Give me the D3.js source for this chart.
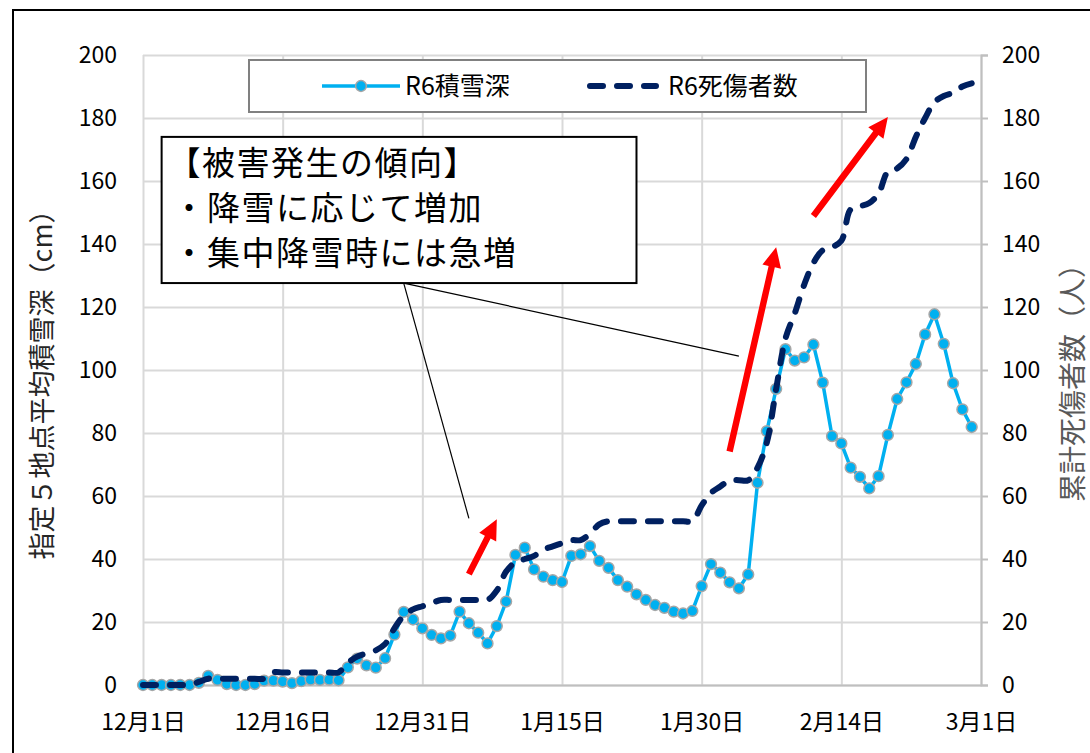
<!DOCTYPE html>
<html>
<head>
<meta charset="utf-8">
<script src="https://cdn.jsdelivr.net/npm/d3@7"></script>
<style>
  body { margin: 0; background: #fff; }
  text { font-family: "Noto Sans CJK JP", "Noto Sans", sans-serif; }
</style>
</head>
<body>
<div class="canvas"></div>
<script>
// --- data ---
// daily values from 12/1 (R6 winter: Dec 2024 - Feb 2025)
const startDate = new Date(2024, 11, 1);

// R6 snow depth, average of 5 points (cm)
const snowDepth = [
  0, 0, 0, 0, 0, 0, 0.7, 2.9, 1.6, 0.3,
  0, 0, 0.3, 1.4, 1.4, 1.1, 0.6, 1.2, 1.7, 1.6,
  1.7, 1.5, 5.6, 8.4, 6.2, 5.5, 8.5, 16, 23.2, 20.8,
  18, 15.9, 14.8, 15.7, 23.3, 19.6, 16.6, 13.2, 18.7, 26.5,
  41.3, 43.6, 36.7, 34.4, 33.3, 32.7, 41, 41.5, 44.1, 39.4,
  37.2, 33.3, 31.2, 28.8, 27, 25.4, 24.5, 23.3, 22.7, 23.5,
  31.4, 38.4, 35.7, 32.6, 30.7, 35.1, 64.2, 80.6, 94, 106.6,
  103, 104, 108.1, 96, 79, 76.7, 69, 66.1, 62.4, 66.3,
  79.4, 90.8, 96.1, 101.9, 111.3, 117.7, 108.3, 95.8, 87.5, 81.9
];

// R6 cumulative casualties (people)
const casualties = [
  0, 0, 0, 0, 0, 0, 1, 2, 2, 2,
  2, 2, 2, 2, 4, 4, 4, 4, 4, 4,
  4, 4, 7, 9, 10, 11, 13, 18, 22, 24,
  25, 26, 27, 27, 27, 27, 27, 27, 30, 36,
  39, 40, 41, 43, 44, 45, 46, 46, 48, 51,
  52, 52, 52, 52, 52, 52, 52, 52, 52, 52,
  57, 61, 63, 65, 65, 65, 69, 77, 94, 110,
  118, 127, 134, 138, 139, 141, 151, 152, 153, 156,
  163, 164, 167, 174, 180, 185, 187, 188, 190, 191
];

const tickDays = [0, 15, 30, 45, 60, 75, 90];
const yTicks = [0, 20, 40, 60, 80, 100, 120, 140, 160, 180, 200];
const seriesNames = ["R6積雪深", "R6死傷者数"];
const noteLines = ["【被害発生の傾向】", "・降雪に応じて増加", "・集中降雪時には急増"];
const leftTitle = "指定５地点平均積雪深（cm）";
const rightTitle = "累計死傷者数（人）";

// annotations placed in data space: [day, value]
const noteBox = { x0: 2.15, x1: 53.7, y0: 174, y1: 127.6 };
const noteFrom = [28.5, 127.6];
const noteTo = [[35.9, 52.9], [64.66, 104.4]];
const arrows = [
  [[35.84, 35.2], [38.16, 52.6]],
  [[63.4, 74.1], [68.77, 139]],
  [[72.4, 148.9], [80.9, 180.3]]
];

// --- layout ---
const W = 1090, H = 753;
const plot = { left: 143, right: 981, top: 55, bottom: 685 };

const svg = d3.select(".canvas").append("svg")
    .attr("width", W)
    .attr("height", H);

svg.append("rect").attr("width", W).attr("height", H).attr("fill", "#fff");
// outer chart border (only top and left show in the frame)
svg.append("rect")
    .attr("x", 13).attr("y", 10)
    .attr("width", 1100).attr("height", 800)
    .attr("fill", "none").attr("stroke", "#000").attr("stroke-width", 2);

const dates = snowDepth.map((d, i) => d3.timeDay.offset(startDate, i));

const x = d3.scaleTime()
    .domain([startDate, d3.timeDay.offset(startDate, 90)])
    .range([plot.left, plot.right]);
const y = d3.scaleLinear().domain([0, 200]).range([plot.bottom, plot.top]);
const y2 = d3.scaleLinear().domain([0, 200]).range([plot.bottom, plot.top]);

const xd = day => x(d3.timeDay.offset(startDate, day));
const tickDates = tickDays.map(d => d3.timeDay.offset(startDate, d));
const fmt = d => (d.getMonth() + 1) + "月" + d.getDate() + "日";

// gridlines
svg.append("g")
    .attr("transform", "translate(" + plot.left + ",0)")
    .call(d3.axisLeft(y).tickValues(yTicks).tickSize(-(plot.right - plot.left)).tickFormat(""))
    .call(g => g.select(".domain").remove())
    .call(g => g.selectAll("line").attr("stroke", "#d9d9d9").attr("stroke-width", 2));

svg.append("g")
    .attr("transform", "translate(0," + plot.bottom + ")")
    .call(d3.axisBottom(x).tickValues(tickDates).tickSize(-(plot.bottom - plot.top)).tickFormat(""))
    .call(g => g.select(".domain").remove())
    .call(g => g.selectAll("line").attr("stroke", "#d9d9d9").attr("stroke-width", 2));

// bottom axis
svg.append("g")
    .attr("transform", "translate(0," + plot.bottom + ")")
    .call(d3.axisBottom(x).tickValues(tickDates).tickSize(0).tickFormat(fmt))
    .call(g => g.select(".domain").attr("stroke", "#bfbfbf").attr("stroke-width", 2))
    .call(g => g.selectAll("text")
        .attr("y", 37).attr("dy", "0.35em")
        .attr("fill", "#000").style("font-size", "23px"));

// left axis labels
svg.append("g")
    .attr("transform", "translate(" + plot.left + ",0)")
    .call(d3.axisLeft(y).tickValues(yTicks).tickSize(0).tickPadding(26))
    .call(g => g.select(".domain").remove())
    .call(g => g.selectAll("text").attr("fill", "#000").style("font-size", "23px"));

// right axis
svg.append("g")
    .attr("transform", "translate(" + plot.right + ",0)")
    .call(d3.axisRight(y2).tickValues(yTicks).tickSize(7).tickPadding(14))
    .call(g => g.select(".domain").attr("stroke", "#bfbfbf").attr("stroke-width", 2))
    .call(g => g.selectAll("line").attr("stroke", "#bfbfbf").attr("stroke-width", 2))
    .call(g => g.selectAll("text").attr("fill", "#000").style("font-size", "23px"));

// axis titles
svg.append("text")
    .attr("transform", "translate(40," + ((plot.top + plot.bottom) / 2 + 8) + ") rotate(-90)")
    .attr("text-anchor", "middle")
    .attr("dominant-baseline", "central")
    .attr("fill", "#262626")
    .style("font-size", "27px")
    .text(leftTitle);

svg.append("text")
    .attr("transform", "translate(1071," + ((plot.top + plot.bottom) / 2 + 6) + ") rotate(-90)")
    .attr("text-anchor", "middle")
    .attr("dominant-baseline", "central")
    .attr("fill", "#595959")
    .style("font-size", "28px")
    .text(rightTitle);

// snow depth line + markers
const snowLine = d3.line()
    .x((d, i) => x(dates[i]))
    .y(d => y(d));

svg.append("path")
    .datum(snowDepth)
    .attr("fill", "none")
    .attr("stroke", "#00b0f0")
    .attr("stroke-width", 3.5)
    .attr("d", snowLine);

svg.append("g")
  .selectAll("circle")
  .data(snowDepth)
  .join("circle")
    .attr("cx", (d, i) => x(dates[i]))
    .attr("cy", d => y(d))
    .attr("r", 5.4)
    .attr("fill", "#00b0f0")
    .attr("stroke", "#a6a6a6")
    .attr("stroke-width", 1.5);

// casualties: smoothed dashed line on the right axis
const casLine = d3.line()
    .curve(d3.curveCatmullRom.alpha(0.5))
    .x((d, i) => x(dates[i]))
    .y(d => y2(d));

svg.append("path")
    .datum(casualties)
    .attr("fill", "none")
    .attr("stroke", "#002060")
    .attr("stroke-width", 6)
    .attr("stroke-linecap", "round")
    .attr("stroke-dasharray", "13 14")
    .attr("d", casLine);

// legend
const lg = svg.append("g");
lg.append("rect")
    .attr("x", 249).attr("y", 60).attr("width", 617).attr("height", 52)
    .attr("fill", "#fff").attr("stroke", "#808080").attr("stroke-width", 2);
lg.append("line")
    .attr("x1", 322).attr("x2", 400).attr("y1", 86).attr("y2", 86)
    .attr("stroke", "#00b0f0").attr("stroke-width", 3.5);
lg.append("circle")
    .attr("cx", 361).attr("cy", 86).attr("r", 5.4)
    .attr("fill", "#00b0f0").attr("stroke", "#a6a6a6").attr("stroke-width", 1.5);
lg.append("text")
    .attr("x", 405).attr("y", 86).attr("dy", "0.35em")
    .style("font-size", "25px").attr("fill", "#000")
    .text(seriesNames[0]);
lg.append("line")
    .attr("x1", 590).attr("x2", 656).attr("y1", 86).attr("y2", 86)
    .attr("stroke", "#002060").attr("stroke-width", 6)
    .attr("stroke-linecap", "round").attr("stroke-dasharray", "13 14");
lg.append("text")
    .attr("x", 668).attr("y", 86).attr("dy", "0.35em")
    .style("font-size", "25px").attr("fill", "#000")
    .text(seriesNames[1]);

// connector lines from note box
noteTo.forEach(p => {
  svg.append("line")
      .attr("x1", xd(noteFrom[0])).attr("y1", y(noteFrom[1]))
      .attr("x2", xd(p[0])).attr("y2", y(p[1]))
      .attr("stroke", "#000").attr("stroke-width", 1.2);
});

// note box
svg.append("rect")
    .attr("x", xd(noteBox.x0)).attr("y", y(noteBox.y0))
    .attr("width", xd(noteBox.x1) - xd(noteBox.x0))
    .attr("height", y(noteBox.y1) - y(noteBox.y0))
    .attr("fill", "#fff").attr("stroke", "#000").attr("stroke-width", 2);

svg.append("g").selectAll("text")
  .data(noteLines)
  .join("text")
    .attr("x", (d, i) => xd(noteBox.x0) + (i == 0 ? 6 : 11))
    .attr("y", (d, i) => y(noteBox.y0) + 27 + i * 45)
    .attr("dy", "0.35em")
    .attr("fill", "#000")
    .style("font-size", "33px")
    .style("letter-spacing", "1.5px")
    .text(d => d);

// red arrows
const arrowPoly = (a, b) => {
  const x1 = xd(a[0]), y1 = y(a[1]), x2 = xd(b[0]), y2v = y(b[1]);
  const len = Math.hypot(x2 - x1, y2v - y1);
  const ux = (x2 - x1) / len, uy = (y2v - y1) / len;
  const nx = -uy, ny = ux;
  const sw = 3.2, hw = 9.5, hl = 20;
  const bx = x2 - ux * hl, by = y2v - uy * hl;
  return [
    [x1 + nx * sw, y1 + ny * sw],
    [bx + nx * sw, by + ny * sw],
    [bx + nx * hw, by + ny * hw],
    [x2, y2v],
    [bx - nx * hw, by - ny * hw],
    [bx - nx * sw, by - ny * sw],
    [x1 - nx * sw, y1 - ny * sw]
  ].map(p => p.join(",")).join(" ");
};

svg.append("g").selectAll("polygon")
  .data(arrows)
  .join("polygon")
    .attr("points", d => arrowPoly(d[0], d[1]))
    .attr("fill", "#ff0000");
</script>
</body>
</html>
